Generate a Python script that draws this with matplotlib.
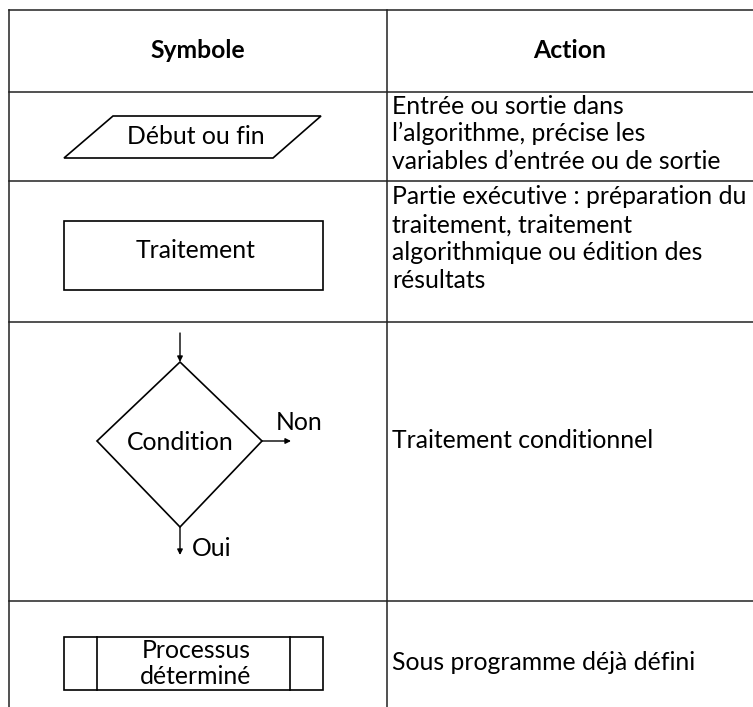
import matplotlib.pyplot as plt
from matplotlib.patches import Polygon, Rectangle

# table content
headers = ["Symbole", "Action"]
symbol_labels = ["Début ou fin", "Traitement", "Condition", "Processus\ndéterminé"]
actions = [
    ["Entrée ou sortie dans", "l\u2019algorithme, précise les", "variables d\u2019entrée ou de sortie"],
    ["Partie exécutive : préparation du", "traitement, traitement", "algorithmique ou édition des", "résultats"],
    ["Traitement conditionnel"],
    ["Sous programme déjà défini"],
]
branch_labels = ["Non", "Oui"]

# layout (pixels)
W, H = 753, 707
X_LEFT, X_MID, X_RIGHT = 9, 387, 753
ROW_EDGES = [10, 92, 181, 322, 601]
FONT = "Lato"
FS = 17.8
LINE_PITCH = 27.8

fig = plt.figure(figsize=(W / 100, H / 100), dpi=100)
ax = fig.add_axes([0, 0, 1, 1])
ax.set_xlim(0, W)
ax.set_ylim(H, 0)
ax.axis("off")

lc = "#222222"
# grid
for y in ROW_EDGES:
    ax.plot([X_LEFT, X_RIGHT], [y, y], color=lc, lw=1.1)
ax.plot([X_LEFT, X_LEFT], [ROW_EDGES[0], H], color=lc, lw=1.1)
ax.plot([X_MID, X_MID], [ROW_EDGES[0], H], color=lc, lw=1.1)

# header
ax.text((X_LEFT + X_MID) / 2, 51, headers[0], ha="center", va="center",
        fontsize=FS, fontweight="bold", family=FONT)
ax.text((X_MID + X_RIGHT) / 2, 51, headers[1], ha="center", va="center",
        fontsize=FS, fontweight="bold", family=FONT)

cx = 196
# row 1: parallelogram
ax.add_patch(Polygon([(64, 158), (113, 116), (321, 116), (273, 158)],
                     closed=True, fill=False, ec="black", lw=1.2))
ax.text(cx, 137, symbol_labels[0], ha="center", va="center", fontsize=FS, family=FONT)

# row 2: rectangle
ax.add_patch(Rectangle((64, 221), 259, 69, fill=False, ec="black", lw=1.2))
ax.text(cx, 250, symbol_labels[1], ha="center", va="center", fontsize=FS, family=FONT)

# row 3: decision diamond
dx = 180
ax.add_patch(Polygon([(dx, 362), (262, 441), (dx, 527), (97, 441)],
                     closed=True, fill=False, ec="black", lw=1.2))
ax.text(dx, 442, symbol_labels[2], ha="center", va="center", fontsize=FS, family=FONT)
arrow = dict(arrowstyle="-|>", color="black", lw=1.0, mutation_scale=8, shrinkA=0, shrinkB=0)
ax.annotate("", xy=(dx, 362), xytext=(dx, 333), arrowprops=arrow)
ax.annotate("", xy=(291, 441), xytext=(262, 441), arrowprops=arrow)
ax.annotate("", xy=(dx, 555), xytext=(dx, 527), arrowprops=arrow)
ax.text(276, 422, branch_labels[0], ha="left", va="center", fontsize=FS, family=FONT)
ax.text(192, 548, branch_labels[1], ha="left", va="center", fontsize=FS, family=FONT)

# row 4: predefined process
ax.add_patch(Rectangle((64, 637), 259, 53, fill=False, ec="black", lw=1.2))
ax.plot([97, 97], [637, 690], color="black", lw=1.2)
ax.plot([290, 290], [637, 690], color="black", lw=1.2)
for k, part in enumerate(symbol_labels[3].split("\n")):
    ax.text(cx, 650 + k * 26, part, ha="center", va="center", fontsize=FS, family=FONT)

# action column
action_tops = [106, 197, 441, 663]
for top, lines in zip(action_tops, actions):
    for k, line in enumerate(lines):
        ax.text(392, top + k * LINE_PITCH, line, ha="left", va="center",
                fontsize=FS, family=FONT)

fig.savefig("out.png", dpi=100, facecolor="white")
